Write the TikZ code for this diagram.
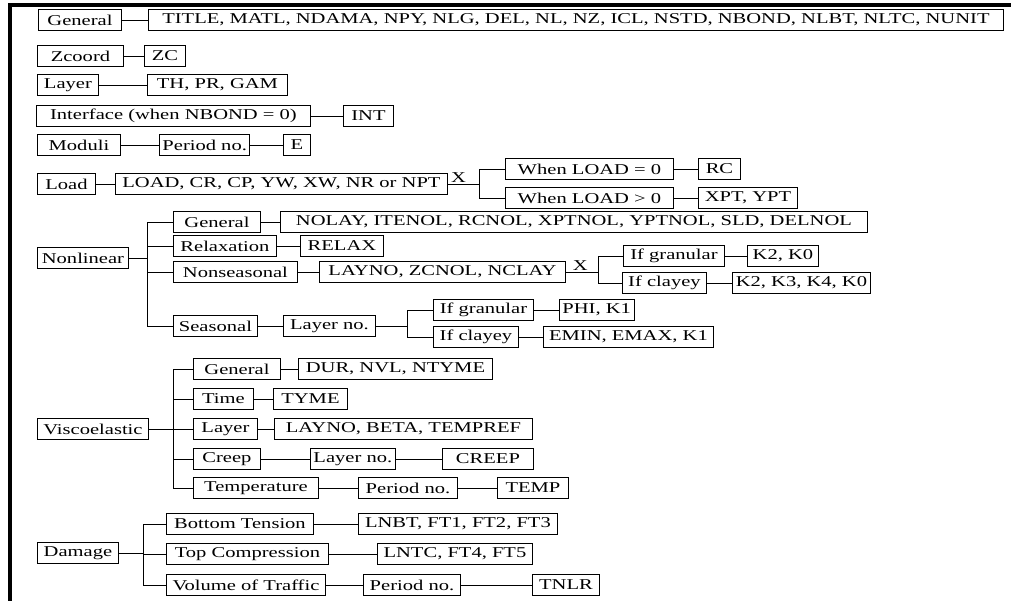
\documentclass[tikz,border=0pt]{standalone}
\usepackage{fontspec}
\setmainfont{Liberation Serif}[FakeStretch=1.37]

\begin{document}
\begin{tikzpicture}[x=1pt, y=-1pt, font=\fontsize{15}{18}\selectfont]
    \tikzset{
        box/.style={draw, line width=0.9pt, anchor=west, minimum height=21pt, inner xsep=3pt, inner ysep=0pt},
        link/.style={line width=0.8pt},
        xlabel/.style={above, inner sep=1pt}
    }
    \useasboundingbox (0,0) rectangle (1011,601);

    % Frame (top and left only)
    \draw [line width=4pt] (10,601) -- (10,5) -- (1011,5);

    % ---- Single rows ----
    \node [box, minimum width=83] (gen) at (38,20) {General};
    \node [box, minimum width=855] (genv) at (148,20) {TITLE, MATL, NDAMA, NPY, NLG, DEL, NL, NZ, ICL, NSTD, NBOND, NLBT, NLTC, NUNIT};
    \draw [link] (gen.east) -- (genv.west);

    \node [box, minimum width=86] (zc) at (37,56) {Zcoord};
    \node [box, minimum width=41] (zcv) at (144,56) {ZC};
    \draw [link] (zc.east) -- (zcv.west);

    \node [box, minimum width=61] (lay) at (37,85) {Layer};
    \node [box, minimum width=140] (layv) at (147,85) {TH, PR, GAM};
    \draw [link] (lay.east) -- (layv.west);

    \node [box, minimum width=274] (intf) at (36,116) {Interface (when NBOND = 0)};
    \node [box, minimum width=50] (intv) at (343,116) {INT};
    \draw [link] (intf.east) -- (intv.west);

    \node [box, minimum width=83] (mod) at (37,145) {Moduli};
    \node [box, minimum width=79] (modp) at (159,145) {Period no.};
    \node [box, minimum width=27] (modv) at (283,145) {E};
    \draw [link] (mod.east) -- (modp.west);
    \draw [link] (modp.east) -- (modv.west);

    % ---- Load ----
    \node [box, minimum width=58] (load) at (37,184) {Load};
    \node [box, minimum width=332] (loadv) at (115,184) {LOAD, CR, CP, YW, XW, NR or NPT};
    \coordinate (ldbus) at (479,184);
    \node [box, minimum width=168] (w0) at (505,169) {When LOAD = 0};
    \node [box, minimum width=42] (rc) at (698,169) {RC};
    \node [box, minimum width=168] (w1) at (505,198) {When LOAD > 0};
    \node [box, minimum width=99] (xpt) at (698,198) {XPT, YPT};
    \draw [link] (load.east) -- (loadv.west);
    \draw [link] (loadv.east) -- node [xlabel, pos=0.34] {X} (ldbus);
    \draw [link] (ldbus) |- (w0.west);
    \draw [link] (ldbus) |- (w1.west);
    \draw [link] (w0.east) -- (rc.west);
    \draw [link] (w1.east) -- (xpt.west);

    % ---- Nonlinear ----
    \node [box, minimum width=91] (nl) at (37,258) {Nonlinear};
    \coordinate (nlbus) at (147,258);
    \node [box, minimum width=87] (nlgen) at (173,222) {General};
    \node [box, minimum width=587] (nlgenv) at (280,222) {NOLAY, ITENOL, RCNOL, XPTNOL, YPTNOL, SLD, DELNOL};
    \node [box, minimum width=103] (nlrel) at (173,246) {Relaxation};
    \node [box, minimum width=83] (nlrelv) at (300,246) {RELAX};
    \node [box, minimum width=124] (nlnon) at (173,272) {Nonseasonal};
    \node [box, minimum width=246] (nlnonv) at (319,272) {LAYNO, ZCNOL, NCLAY};
    \node [box, minimum width=84] (nlsea) at (173,326) {Seasonal};
    \node [box, minimum width=92] (nlseal) at (283,326) {Layer no.};

    \draw [link] (nl.east) -- (nlbus);
    \foreach \n in {nlgen, nlrel, nlnon, nlsea}
        \draw [link] (nlbus) |- (\n.west);
    \draw [link] (nlgen.east) -- (nlgenv.west);
    \draw [link] (nlrel.east) -- (nlrelv.west);
    \draw [link] (nlnon.east) -- (nlnonv.west);
    \draw [link] (nlsea.east) -- (nlseal.west);

    % nonseasonal branches
    \coordinate (nnbus) at (598,272);
    \node [box, minimum width=101] (nngr) at (623,256) {If granular};
    \node [box, minimum width=71] (nngrv) at (747,256) {K2, K0};
    \node [box, minimum width=84] (nncl) at (622,283) {If clayey};
    \node [box, minimum width=138] (nnclv) at (732,283) {K2, K3, K4, K0};
    \draw [link] (nlnonv.east) -- node [xlabel, pos=0.45] {X} (nnbus);
    \draw [link] (nnbus) |- (nngr.west);
    \draw [link] (nnbus) |- (nncl.west);
    \draw [link] (nngr.east) -- (nngrv.west);
    \draw [link] (nncl.east) -- (nnclv.west);

    % seasonal branches
    \coordinate (nsbus) at (407,326);
    \node [box, minimum width=100] (nsgr) at (433,310) {If granular};
    \node [box, minimum width=73] (nsgrv) at (559,310) {PHI, K1};
    \node [box, minimum width=85] (nscl) at (433,337) {If clayey};
    \node [box, minimum width=170] (nsclv) at (543,337) {EMIN, EMAX, K1};
    \draw [link] (nlseal.east) -- (nsbus);
    \draw [link] (nsbus) |- (nsgr.west);
    \draw [link] (nsbus) |- (nscl.west);
    \draw [link] (nsgr.east) -- (nsgrv.west);
    \draw [link] (nscl.east) -- (nsclv.west);

    % ---- Viscoelastic ----
    \node [box, minimum width=111] (vis) at (37,429) {Viscoelastic};
    \coordinate (visbus) at (173,429);
    \node [box, minimum width=87] (vgen) at (193,369) {General};
    \node [box, minimum width=194] (vgenv) at (298,369) {DUR, NVL, NTYME};
    \node [box, minimum width=60] (vtim) at (193,399) {Time};
    \node [box, minimum width=74] (vtimv) at (273,399) {TYME};
    \node [box, minimum width=64] (vlay) at (193,429) {Layer};
    \node [box, minimum width=258] (vlayv) at (274,429) {LAYNO, BETA, TEMPREF};
    \node [box, minimum width=67] (vcre) at (193,459) {Creep};
    \node [box, minimum width=83] (vcrel) at (310,459) {Layer no.};
    \node [box, minimum width=91] (vcrev) at (442,459) {CREEP};
    \node [box, minimum width=125] (vtem) at (193,488) {Temperature};
    \node [box, minimum width=99] (vtemp) at (358,488) {Period no.};
    \node [box, minimum width=71] (vtemv) at (497,488) {TEMP};

    \draw [link] (vis.east) -- (visbus);
    \foreach \n in {vgen, vtim, vlay, vcre, vtem}
        \draw [link] (visbus) |- (\n.west);
    \draw [link] (vgen.east) -- (vgenv.west);
    \draw [link] (vtim.east) -- (vtimv.west);
    \draw [link] (vlay.east) -- (vlayv.west);
    \draw [link] (vcre.east) -- (vcrel.west);
    \draw [link] (vcrel.east) -- (vcrev.west);
    \draw [link] (vtem.east) -- (vtemp.west);
    \draw [link] (vtemp.east) -- (vtemv.west);

    % ---- Damage ----
    \node [box, minimum width=81] (dam) at (37,553) {Damage};
    \coordinate (dambus) at (143,553);
    \node [box, minimum width=147] (dbot) at (166,524) {Bottom Tension};
    \node [box, minimum width=199] (dbotv) at (358,524) {LNBT, FT1, FT2, FT3};
    \node [box, minimum width=162] (dtop) at (166,554) {Top Compression};
    \node [box, minimum width=155] (dtopv) at (377,554) {LNTC, FT4, FT5};
    \node [box, minimum width=159] (dvol) at (166,585) {Volume of Traffic};
    \node [box, minimum width=97] (dvolp) at (363,585) {Period no.};
    \node [box, minimum width=67] (dvolv) at (532,585) {TNLR};

    \draw [link] (dam.east) -- (dambus);
    \foreach \n in {dbot, dtop, dvol}
        \draw [link] (dambus) |- (\n.west);
    \draw [link] (dbot.east) -- (dbotv.west);
    \draw [link] (dtop.east) -- (dtopv.west);
    \draw [link] (dvol.east) -- (dvolp.west);
    \draw [link] (dvolp.east) -- (dvolv.west);

\end{tikzpicture}
\end{document}
